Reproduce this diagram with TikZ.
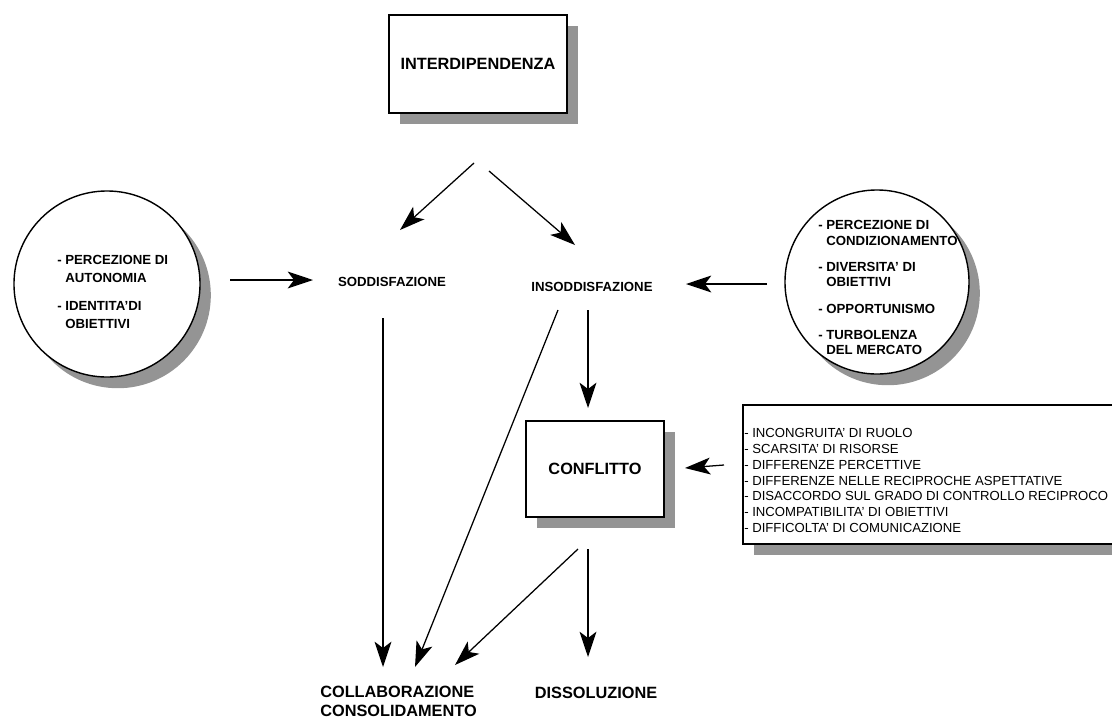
\documentclass[tikz,border=0pt]{standalone}
\usepackage{fontspec}
\setmainfont{Liberation Sans}
\usetikzlibrary{arrows.meta,shadows}

\begin{document}
\begin{tikzpicture}[x=0.025cm,y=-0.025cm,
	freccia/.style={line width=0.9pt,-{Stealth[length=18pt,width=12pt,inset=4.5pt]}},
	ombra/.style={general shadow={fill=black!42,shadow xshift=0.27cm,shadow yshift=-0.28cm}},
	scatola/.style={draw,line width=1.2pt,fill=white,ombra},
	titolo/.style={font=\bfseries\fontsize{11.6}{14}\selectfont},
	voce/.style={font=\bfseries\fontsize{9.4}{12}\selectfont}]

	\useasboundingbox (0,0) rectangle (1112,718);

	\node[scatola,minimum width=4.45cm,minimum height=2.45cm,titolo] (interd) at (478,64) {INTERDIPENDENZA};

	\node[circle,draw,line width=1pt,fill=white,ombra,minimum size=4.65cm] (cerchioA) at (107,284) {};
	\node[anchor=north west,inner sep=0pt,align=left,font=\bfseries\fontsize{9.4}{12.8}\selectfont] (listaA) at (57,255)
		{- PERCEZIONE DI\\\hphantom{- }AUTONOMIA\\[7pt]- IDENTITA'DI\\\hphantom{- }OBIETTIVI};

	\node[circle,draw,line width=1pt,fill=white,ombra,minimum size=4.6cm] (cerchioB) at (877,282) {};
	\node[anchor=north west,inner sep=0pt,align=left,font=\bfseries\fontsize{9.4}{11.1}\selectfont] (listaB) at (818,220)
		{- PERCEZIONE DI\\\hphantom{- }CONDIZIONAMENTO\\[7.5pt]- DIVERSITA' DI\\\hphantom{- }OBIETTIVI\\[7.5pt]- OPPORTUNISMO\\[7.5pt]- TURBOLENZA\\\hphantom{- }DEL MERCATO};

	\node[voce] (sodd) at (392,282) {SODDISFAZIONE};
	\node[voce] (insodd) at (592,287) {INSODDISFAZIONE};

	\node[scatola,minimum width=3.45cm,minimum height=2.4cm,titolo] (confl) at (595,469) {CONFLITTO};

	\node[scatola,anchor=north west,minimum width=9.6cm,minimum height=3.475cm] (cause) at (742,404) {};
	\node[anchor=north west,inner sep=0pt,align=left,font=\fontsize{9.35}{11.2}\selectfont] (causeTxt) at (744,428.5)
		{- INCONGRUITA' DI RUOLO\\- SCARSITA' DI RISORSE\\- DIFFERENZE PERCETTIVE\\- DIFFERENZE NELLE RECIPROCHE ASPETTATIVE\\- DISACCORDO SUL GRADO DI CONTROLLO RECIPROCO\\- INCOMPATIBILITA' DI OBIETTIVI\\- DIFFICOLTA' DI COMUNICAZIONE};

	\node[anchor=north west,inner sep=0pt,align=left,font=\bfseries\fontsize{11.6}{13.2}\selectfont] (coll) at (320,686) {COLLABORAZIONE\\CONSOLIDAMENTO};
	\node[titolo] (diss) at (596,693) {DISSOLUZIONE};

	% estremi delle frecce
	\coordinate (i1) at (474,163); \coordinate (s1) at (400,230);
	\coordinate (i2) at (489,171); \coordinate (s2) at (575,245);
	\coordinate (a1) at (230,280); \coordinate (a2) at (313,280);
	\coordinate (b1) at (767,284); \coordinate (b2) at (686,284);
	\coordinate (s3) at (383,318); \coordinate (c1) at (383,667);
	\coordinate (s4) at (558,310); \coordinate (c2) at (415,667);
	\coordinate (s5) at (588,310); \coordinate (f1) at (588,408);
	\coordinate (k1) at (724,465); \coordinate (f2) at (685,468);
	\coordinate (f3) at (578,549); \coordinate (c3) at (455,665);
	\coordinate (f4) at (588,549); \coordinate (d1) at (588,657);

	\draw[freccia] (i1) -- (s1);
	\draw[freccia] (i2) -- (s2);
	\draw[freccia] (a1) -- (a2);
	\draw[freccia] (b1) -- (b2);
	\draw[freccia] (s3) -- (c1);
	\draw[freccia] (s4) -- (c2);
	\draw[freccia] (s5) -- (f1);
	\draw[freccia] (k1) -- (f2);
	\draw[freccia] (f3) -- (c3);
	\draw[freccia] (f4) -- (d1);
\end{tikzpicture}
\end{document}
